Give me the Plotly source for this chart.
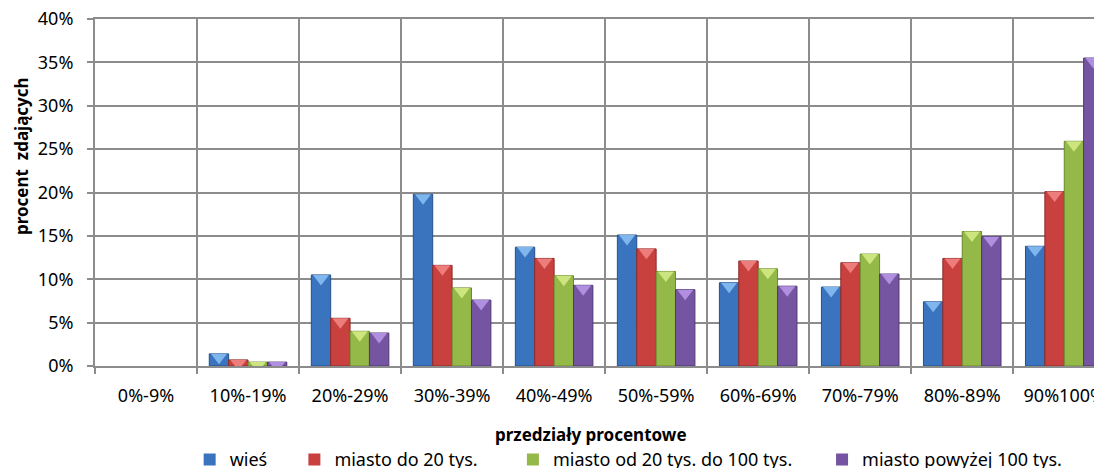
import plotly.graph_objects as go

# Przedziały procentowe (categories) and shares of passing students, in %
categories = ["0%-9%", "10%-19%", "20%-29%", "30%-39%", "40%-49%",
              "50%-59%", "60%-69%", "70%-79%", "80%-89%", "90%100%"]

wies = [0.0, 1.4, 10.5, 19.8, 13.7, 15.1, 9.6, 9.1, 7.4, 13.8]
miasto_do_20 = [0.0, 0.7, 5.5, 11.6, 12.4, 13.5, 12.1, 11.9, 12.4, 20.1]
miasto_20_100 = [0.0, 0.45, 4.0, 9.0, 10.4, 10.9, 11.2, 12.9, 15.5, 25.9]
miasto_pow_100 = [0.0, 0.45, 3.8, 7.6, 9.3, 8.8, 9.2, 10.6, 14.9, 35.5]

series_names = ["wieś", "miasto do 20 tys.", "miasto od 20 tys. do 100 tys.",
                "miasto powyżej 100 tys."]

y_ticks = [0, 5, 10, 15, 20, 25, 30, 35, 40]
y_tick_labels = [f"{v}%" for v in y_ticks]

FONT = "Noto Sans, Open Sans, Arial, sans-serif"
GRID = "#8c8c8c"

# fill / outline / light bevel cap per series (Office 2007 palette)
styles = [
    ("#3b74be", "#24508a", "#7fb6ee"),
    ("#c8413e", "#8e2a28", "#ec7d7a"),
    ("#94b948", "#6a8a2c", "#cde57e"),
    ("#7554a2", "#4f3674", "#b08ee0"),
]
# legend x positions (paper), one legend per series like the Excel layout
legend_x = [0.094, 0.198, 0.415, 0.722]
BARGAP = 0.24

fig = go.Figure()
all_series = [wies, miasto_do_20, miasto_20_100, miasto_pow_100]
for i, (name, vals) in enumerate(zip(series_names, all_series)):
    fill, edge, cap = styles[i]
    fig.add_trace(
        go.Bar(
            x=categories,
            y=vals,
            name=name,
            marker=dict(
                color=fill,
                # no outline on empty bars, so nothing shows at 0
                line=dict(color=edge, width=[1 if v > 0 else 0 for v in vals]),
            ),
            legend="legend" if i == 0 else f"legend{i + 1}",
        )
    )

# light triangular caps at the top of each bar (the Excel bevel look)
for i, vals in enumerate(all_series):
    fill, edge, cap = styles[i]
    fig.add_trace(
        go.Scatter(
            x=categories,
            y=[v - 0.4 if v > 0 else None for v in vals],
            mode="markers",
            marker=dict(symbol="triangle-down", size=14, color=cap,
                        line=dict(width=0)),
            showlegend=False,
            hoverinfo="skip",
            cliponaxis=True,
        )
    )

legend_common = dict(
    orientation="h",
    xref="paper",
    yref="paper",
    y=-0.270,
    yanchor="middle",
    xanchor="left",
    bgcolor="rgba(0,0,0,0)",
    font=dict(family=FONT, size=18, color="#000000"),
    itemwidth=30,
)

# page body has an 8px margin, so the figure is a bit smaller than the window
fig.update_layout(
    width=1094,
    height=460,
    paper_bgcolor="#ffffff",
    plot_bgcolor="#ffffff",
    font=dict(family=FONT, size=18, color="#000000"),
    margin=dict(l=87, r=0, t=11, b=102, autoexpand=False),
    barmode="group",
    bargap=BARGAP,
    bargroupgap=0,
    scattermode="group",
    scattergap=BARGAP,
    showlegend=True,
    legend=dict(x=legend_x[0], **legend_common),
    legend2=dict(x=legend_x[1], **legend_common),
    legend3=dict(x=legend_x[2], **legend_common),
    legend4=dict(x=legend_x[3], **legend_common),
    xaxis=dict(
        type="category",
        range=[-0.5, 9.37],
        tickson="boundaries",
        showgrid=True,
        gridcolor=GRID,
        gridwidth=2,
        showline=True,
        mirror=True,
        linecolor=GRID,
        linewidth=2,
        ticks="outside",
        ticklen=6,
        tickwidth=2,
        tickcolor=GRID,
        ticklabelstandoff=12,
        tickfont=dict(size=18),
    ),
    yaxis=dict(
        range=[0, 40],
        tickvals=y_ticks,
        ticktext=y_tick_labels,
        ticklabeloverflow="allow",
        showgrid=True,
        gridcolor=GRID,
        gridwidth=2,
        zeroline=False,
        showline=True,
        linecolor=GRID,
        linewidth=2,
        ticks="outside",
        ticklen=6,
        tickwidth=2,
        tickcolor=GRID,
        ticklabelstandoff=10,
        tickfont=dict(size=18),
    ),
    annotations=[
        dict(
            text="<b>procent  zdających</b>",
            xref="paper", yref="paper",
            x=-0.0735, y=0.605,
            textangle=-90,
            showarrow=False,
            font=dict(family=FONT, size=17),
            xanchor="center", yanchor="middle",
        ),
        dict(
            text="<b>przedziały procentowe</b>",
            xref="paper", yref="paper",
            x=0.4926, y=-0.196,
            showarrow=False,
            font=dict(family=FONT, size=17),
            xanchor="center", yanchor="middle",
        ),
    ],
)

fig.write_html("out.html")
